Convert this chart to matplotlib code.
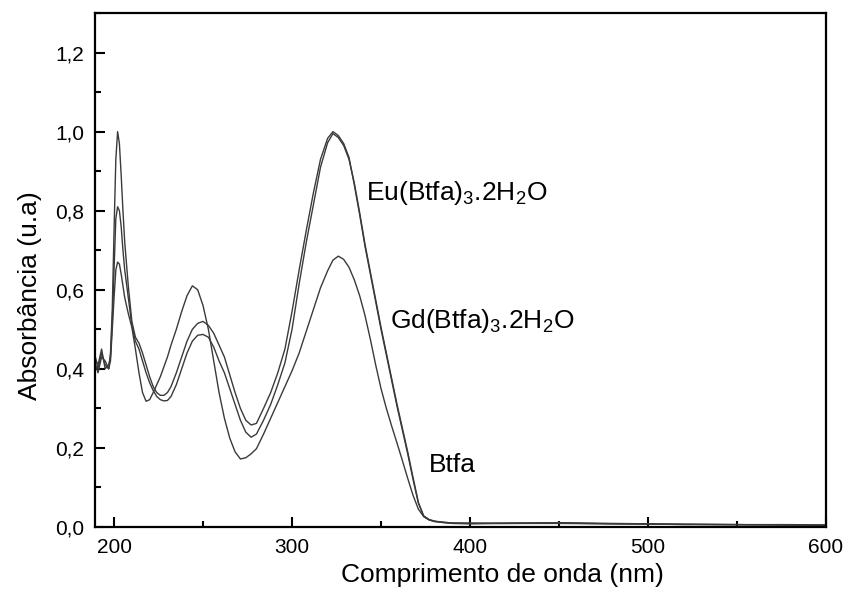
import matplotlib
matplotlib.use('Agg')
import matplotlib.pyplot as plt
from matplotlib.ticker import MultipleLocator, FuncFormatter

plt.rcParams['font.family'] = ['Liberation Sans', 'DejaVu Sans']
plt.rcParams['mathtext.default'] = 'regular'

# comprimento de onda (nm)
wl = [189, 191, 193, 195, 197, 198, 199, 200, 201, 202,
      203, 204, 205, 206, 208, 210, 212, 214, 216, 218,
      220, 222, 224, 226, 228, 230, 232, 235, 238, 241,
      244, 247, 250, 253, 256, 259, 262, 265, 268, 271,
      274, 277, 280, 284, 288, 292, 296, 300, 304, 308,
      312, 316, 320, 323, 326, 329, 332, 335, 338, 341,
      344, 347, 350, 353, 356, 359, 362, 365, 368, 371,
      374, 377, 380, 385, 390, 400, 420, 450, 480, 500,
      520, 550, 580, 600]

eu = [0.44, 0.40, 0.44, 0.41, 0.40, 0.44, 0.55, 0.75, 0.93, 1.00,
      0.97, 0.89, 0.80, 0.72, 0.61, 0.52, 0.48, 0.465, 0.44, 0.41,
      0.38, 0.355, 0.34, 0.333, 0.333, 0.34, 0.355, 0.39, 0.43, 0.47,
      0.50, 0.515, 0.52, 0.51, 0.49, 0.46, 0.43, 0.385, 0.34, 0.30,
      0.27, 0.258, 0.262, 0.30, 0.34, 0.39, 0.45, 0.545, 0.65, 0.75,
      0.845, 0.93, 0.983, 1.0, 0.99, 0.97, 0.935, 0.865, 0.79, 0.71,
      0.64, 0.57, 0.50, 0.435, 0.37, 0.305, 0.245, 0.185, 0.12, 0.06,
      0.028, 0.019, 0.015, 0.012, 0.010, 0.009, 0.010, 0.011, 0.009, 0.008,
      0.007, 0.006, 0.006, 0.005]

gd = [0.43, 0.41, 0.45, 0.40, 0.41, 0.43, 0.52, 0.65, 0.78, 0.81,
      0.80, 0.76, 0.70, 0.65, 0.58, 0.51, 0.47, 0.45, 0.42, 0.39,
      0.365, 0.345, 0.33, 0.322, 0.319, 0.32, 0.33, 0.36, 0.40, 0.44,
      0.47, 0.485, 0.487, 0.48, 0.455, 0.42, 0.39, 0.35, 0.31, 0.27,
      0.24, 0.227, 0.235, 0.27, 0.31, 0.36, 0.415, 0.50, 0.615, 0.72,
      0.815, 0.91, 0.972, 0.995, 0.985, 0.965, 0.93, 0.87, 0.795, 0.715,
      0.645, 0.575, 0.505, 0.44, 0.375, 0.31, 0.25, 0.19, 0.125, 0.062,
      0.027, 0.018, 0.014, 0.011, 0.009, 0.008, 0.009, 0.009, 0.008, 0.007,
      0.007, 0.006, 0.005, 0.005]

btfa = [0.42, 0.39, 0.43, 0.42, 0.40, 0.42, 0.50, 0.58, 0.65, 0.67,
        0.665, 0.64, 0.61, 0.58, 0.54, 0.505, 0.45, 0.39, 0.34, 0.318,
        0.322, 0.34, 0.36, 0.38, 0.405, 0.43, 0.46, 0.50, 0.545, 0.585,
        0.61, 0.60, 0.56, 0.50, 0.42, 0.34, 0.275, 0.225, 0.19, 0.172,
        0.175, 0.185, 0.198, 0.235, 0.275, 0.315, 0.355, 0.395, 0.44, 0.495,
        0.55, 0.605, 0.648, 0.675, 0.685, 0.677, 0.657, 0.625, 0.585, 0.535,
        0.475, 0.41, 0.35, 0.30, 0.255, 0.212, 0.168, 0.123, 0.08, 0.045,
        0.026, 0.018, 0.014, 0.012, 0.010, 0.010, 0.009, 0.010, 0.008, 0.008,
        0.006, 0.006, 0.005, 0.004]

fig = plt.figure(figsize=(8.43, 6.02), dpi=100)
ax = fig.add_axes([0.1127, 0.1246, 0.8671, 0.8538])

for y in (eu, gd, btfa):
    ax.plot(wl, y, color='#3a3a3a', lw=1.0)

ax.text(341.5, 0.846, 'Eu(Btfa)$_3$.2H$_2$O', fontsize=19, va='center')
ax.text(355, 0.52, 'Gd(Btfa)$_3$.2H$_2$O', fontsize=19, va='center')
ax.text(377, 0.158, 'Btfa', fontsize=19, va='center')

ax.set_xlim(189.3, 600)
ax.set_ylim(0, 1.3)
ax.xaxis.set_major_locator(MultipleLocator(100))
ax.xaxis.set_minor_locator(MultipleLocator(50))
ax.yaxis.set_major_locator(MultipleLocator(0.2))
ax.yaxis.set_minor_locator(MultipleLocator(0.1))
ax.yaxis.set_major_formatter(FuncFormatter(lambda v, p: f'{v:.1f}'.replace('.', ',')))

ax.tick_params(which='both', direction='in', width=1.5, labelsize=15, pad=8)
ax.tick_params(which='major', length=7)
ax.tick_params(which='minor', length=4)
for s in ax.spines.values():
    s.set_linewidth(1.6)

ax.set_xlabel('Comprimento de onda (nm)', fontsize=19, va='center')
ax.set_ylabel('Absorbância (u.a)', fontsize=19, va='center')
ax.xaxis.set_label_coords(0.557, -0.093)
ax.yaxis.set_label_coords(-0.089, 0.451)

fig.savefig('out.png', dpi=100)
